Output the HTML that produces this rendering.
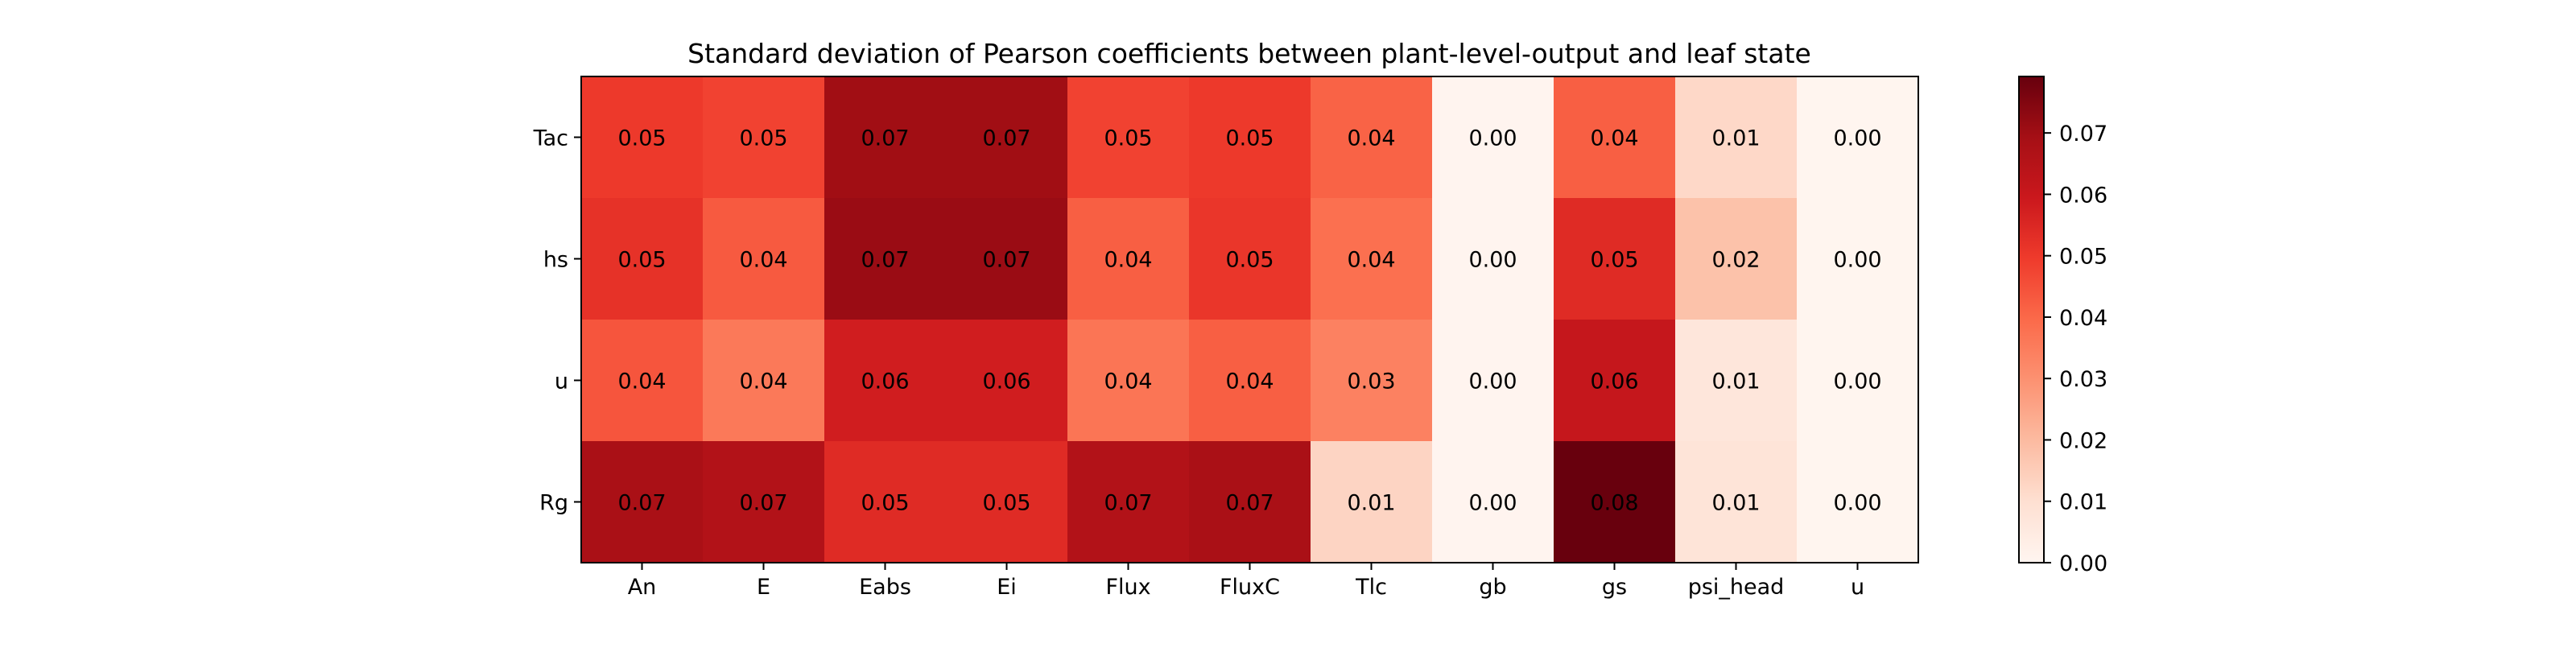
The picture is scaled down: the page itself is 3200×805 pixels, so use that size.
<!DOCTYPE html>
<html><head><meta charset="utf-8"><style>
html,body{margin:0;padding:0;background:#fff}
svg text{font-family:"DejaVu Sans","Liberation Sans",sans-serif}
</style></head><body>
<svg id="chart" width="3200" height="800" viewBox="0 0 3200 800" xmlns="http://www.w3.org/2000/svg">
<text x="1552" y="78" font-size="33" text-anchor="middle" fill="#000">Standard deviation of Pearson coefficients between plant-level-output and leaf state</text>
<g id="cells"></g>
<rect x="722" y="95" width="1661" height="604" fill="none" stroke="#000" stroke-width="2"/>
<g id="axes"></g>
<defs><linearGradient id="cg" x1="0" y1="1" x2="0" y2="0"></linearGradient></defs>
<rect x="2508" y="95" width="31" height="604" fill="url(#cg)" stroke="#000" stroke-width="2"/>
<g id="cbticks"></g>
</svg>
<script>
const xCategories=["An","E","Eabs","Ei","Flux","FluxC","Tlc","gb","gs","psi_head","u"];
const yCategories=["Tac","hs","u","Rg"];
const rowTac=[0.050,0.048,0.070,0.070,0.048,0.050,0.041,0.0003,0.042,0.012,0.0002];
const rowHs=[0.052,0.043,0.071,0.071,0.042,0.051,0.038,0.0003,0.054,0.018,0.0002];
const rowU=[0.044,0.036,0.058,0.058,0.037,0.042,0.034,0.0003,0.061,0.007,0.0002];
const rowRg=[0.068,0.066,0.054,0.054,0.066,0.068,0.013,0.0003,0.079,0.008,0.0002];
const cbTicks=[0,0.01,0.02,0.03,0.04,0.05,0.06,0.07];
const vmin=0, vmax=0.0792;
const rows=[rowTac,rowHs,rowU,rowRg];
const L=722,T=95,W=1661,H=604;
const cw=W/xCategories.length, ch=H/yCategories.length;
const stops=["#fff5f0","#fee0d2","#fcbba1","#fc9272","#fb6a4a","#ef3b2c","#cb181d","#a50f15","#67000d"];
function hex(h){return [1,3,5].map(i=>parseInt(h.substr(i,2),16));}
function cmap(v){let t=Math.max(0,Math.min(1,(v-vmin)/(vmax-vmin)))*(stops.length-1);
 let i=Math.min(Math.floor(t),stops.length-2),f=t-i;const a=hex(stops[i]),b=hex(stops[i+1]);
 return "rgb("+a.map((x,k)=>Math.round(x+(b[k]-x)*f)).join(",")+")";}
const NS="http://www.w3.org/2000/svg";
function xPos(i){return L+cw*i;} function yPos(j){return T+ch*j;}
function yCb(v){return T+H-(v-vmin)/(vmax-vmin)*H;}
const cells=document.getElementById("cells");
rows.forEach((r,j)=>r.forEach((v,i)=>{
 const rc=document.createElementNS(NS,"rect");
 rc.setAttribute("x",xPos(i));rc.setAttribute("y",yPos(j));rc.setAttribute("width",cw+0.5);rc.setAttribute("height",ch+0.5);rc.setAttribute("fill",cmap(v));
 
 
 cells.appendChild(rc);
 const tx=document.createElementNS(NS,"text");
 tx.setAttribute("x",xPos(i)+cw/2);tx.setAttribute("y",yPos(j)+ch/2+10);tx.setAttribute("font-size","27");tx.setAttribute("text-anchor","middle");
 tx.textContent=v.toFixed(2);
 
 
 cells.appendChild(tx);
}));
const axes=document.getElementById("axes");
xCategories.forEach((c,i)=>{
 const x=xPos(i)+cw/2;
 const ln=document.createElementNS(NS,"line");ln.setAttribute("x1",x);ln.setAttribute("x2",x);ln.setAttribute("y1",T+H);ln.setAttribute("y2",T+H+9);ln.setAttribute("stroke","#000");ln.setAttribute("stroke-width","2");
 
 
 axes.appendChild(ln);
 const tx=document.createElementNS(NS,"text");tx.setAttribute("x",x);tx.setAttribute("y",T+H+39);tx.setAttribute("font-size","27");tx.setAttribute("text-anchor","middle");tx.textContent=c;
 
 
 axes.appendChild(tx);
});
yCategories.forEach((c,j)=>{
 const y=yPos(j)+ch/2;
 const ln=document.createElementNS(NS,"line");ln.setAttribute("x1",L-9);ln.setAttribute("x2",L);ln.setAttribute("y1",y);ln.setAttribute("y2",y);ln.setAttribute("stroke","#000");ln.setAttribute("stroke-width","2");
 
 
 axes.appendChild(ln);
 const tx=document.createElementNS(NS,"text");tx.setAttribute("x",L-16);tx.setAttribute("y",y+10);tx.setAttribute("font-size","27");tx.setAttribute("text-anchor","end");tx.textContent=c;
 
 
 axes.appendChild(tx);
});
const cg=document.getElementById("cg");
for(let k=0;k<=40;k++){const s=document.createElementNS(NS,"stop");s.setAttribute("offset",k/40);s.setAttribute("stop-color",cmap(vmin+(vmax-vmin)*k/40));cg.appendChild(s);}
const cbt=document.getElementById("cbticks");
cbTicks.forEach(v=>{
 const y=yCb(v);
 const ln=document.createElementNS(NS,"line");ln.setAttribute("x1",2539);ln.setAttribute("x2",2548);ln.setAttribute("y1",y);ln.setAttribute("y2",y);ln.setAttribute("stroke","#000");ln.setAttribute("stroke-width","2");
 
 
 cbt.appendChild(ln);
 const tx=document.createElementNS(NS,"text");tx.setAttribute("x",2558);tx.setAttribute("y",y+10);tx.setAttribute("font-size","27");tx.textContent=v.toFixed(2);
 
 
 cbt.appendChild(tx);
});
</script>
</body></html>
